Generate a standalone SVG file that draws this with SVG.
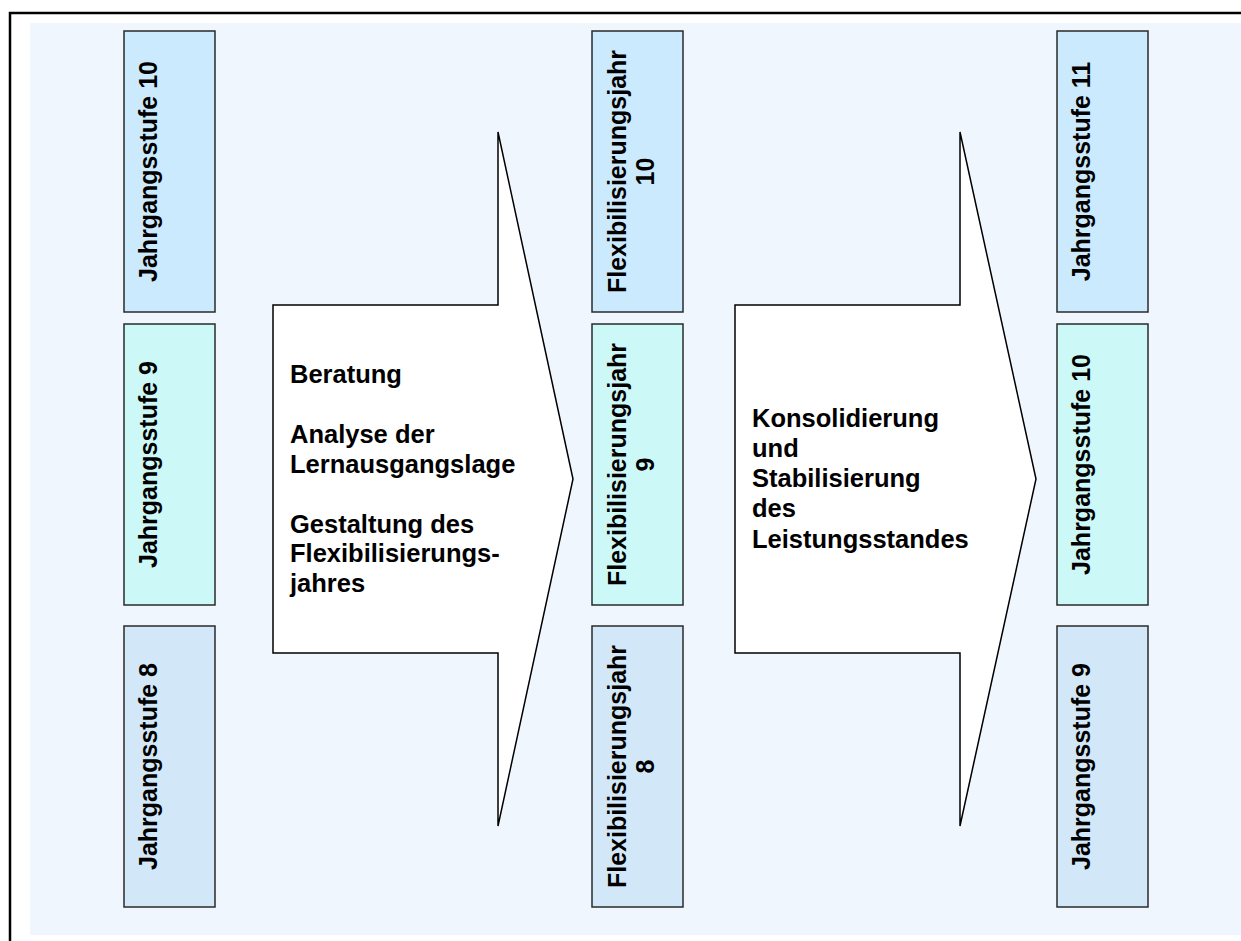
<svg xmlns="http://www.w3.org/2000/svg" width="1241" height="941" viewBox="0 0 1241 941">
<style>
.box{stroke:#2a2a2a;stroke-width:1.5}
.c1{fill:#cceafd}
.c2{fill:#cdf8f8}
.c3{fill:#d2e8f8}
.arrow{fill:#ffffff;stroke:#000000;stroke-width:1.5;stroke-linejoin:miter}
text{font-family:"Liberation Sans",Arial,sans-serif;font-weight:bold;font-size:25px;fill:#000}
.h{font-size:25.5px}
.v{text-anchor:middle}
</style>
<rect x="0" y="0" width="1241" height="941" fill="#ffffff"/>
<rect x="30" y="23" width="1211" height="912" fill="#eff6fe"/>
<path d="M10 941 V13 H1241" fill="none" stroke="#000" stroke-width="2.5"/>

<g id="connectors">
<polygon id="arrow1" class="arrow" points="273,305 498,305 498,132 573,479 498,826 498,653 273,653"/>
<polygon id="arrow2" class="arrow" points="735,305 960,305 960,132 1036,479 960,826 960,653 735,653"/>
</g>

<g id="arrow1-text">
<text class="h" x="290" y="383">Beratung</text>
<text class="h" x="290" y="443">Analyse der</text>
<text class="h" x="290" y="472.5">Lernausgangslage</text>
<text class="h" x="290" y="532.5">Gestaltung des</text>
<text class="h" x="290" y="562">Flexibilisierungs-</text>
<text class="h" x="290" y="592">jahres</text>
</g>
<g id="arrow2-text">
<text class="h" x="752" y="427">Konsolidierung</text>
<text class="h" x="752" y="457">und</text>
<text class="h" x="752" y="487">Stabilisierung</text>
<text class="h" x="752" y="517">des</text>
<text class="h" x="752" y="548">Leistungsstandes</text>
</g>

<g id="j10a">
<rect class="box c1" x="124" y="31" width="91" height="281"/>
<text class="v" transform="translate(157,171.5) rotate(-90)">Jahrgangsstufe 10</text>
</g>
<g id="j9a">
<rect class="box c2" x="124" y="324" width="91" height="281"/>
<text class="v" transform="translate(157,464.5) rotate(-90)">Jahrgangsstufe 9</text>
</g>
<g id="j8a">
<rect class="box c3" x="124" y="626" width="91" height="281"/>
<text class="v" transform="translate(157,766.5) rotate(-90)">Jahrgangsstufe 8</text>
</g>

<g id="f10">
<rect class="box c1" x="592" y="31" width="91" height="281"/>
<text class="v" transform="translate(626,171.5) rotate(-90)">Flexibilisierungsjahr</text>
<text class="v" transform="translate(654,171.5) rotate(-90)">10</text>
</g>
<g id="f9">
<rect class="box c2" x="592" y="324" width="91" height="281"/>
<text class="v" transform="translate(626,464.5) rotate(-90)">Flexibilisierungsjahr</text>
<text class="v" transform="translate(654,464.5) rotate(-90)">9</text>
</g>
<g id="f8">
<rect class="box c3" x="592" y="626" width="91" height="281"/>
<text class="v" transform="translate(626,766.5) rotate(-90)">Flexibilisierungsjahr</text>
<text class="v" transform="translate(654,766.5) rotate(-90)">8</text>
</g>

<g id="j11">
<rect class="box c1" x="1057" y="31" width="91" height="281"/>
<text class="v" transform="translate(1090,171.5) rotate(-90)">Jahrgangsstufe 11</text>
</g>
<g id="j10b">
<rect class="box c2" x="1057" y="324" width="91" height="281"/>
<text class="v" transform="translate(1090,464.5) rotate(-90)">Jahrgangsstufe 10</text>
</g>
<g id="j9b">
<rect class="box c3" x="1057" y="626" width="91" height="281"/>
<text class="v" transform="translate(1090,766.5) rotate(-90)">Jahrgangsstufe 9</text>
</g>
</svg>
